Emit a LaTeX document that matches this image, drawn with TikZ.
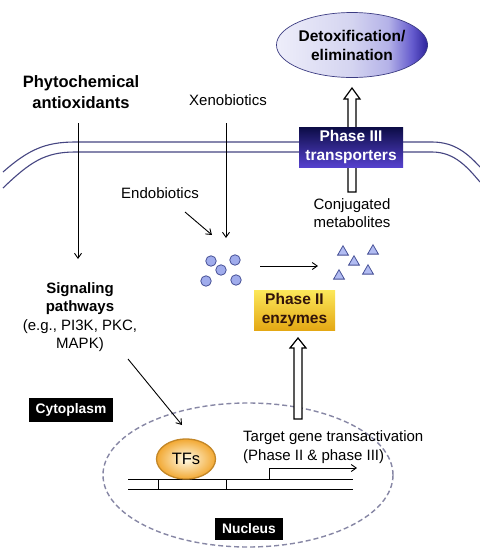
\documentclass[tikz,border=0pt]{standalone}
\usepackage{fontspec}
\setmainfont{Liberation Sans}
\usetikzlibrary{shapes.geometric,arrows.meta}
\definecolor{memb}{RGB}{70,70,130}
\definecolor{dA}{RGB}{238,238,250}
\definecolor{dB}{RGB}{212,212,240}
\definecolor{dC}{RGB}{180,178,232}
\definecolor{dD}{RGB}{100,90,205}
\definecolor{dE}{RGB}{45,35,155}
\definecolor{circfill}{RGB}{160,172,236}
\definecolor{circdraw}{RGB}{70,80,150}
\definecolor{trifill}{RGB}{178,188,242}
\definecolor{nucdash}{RGB}{135,135,165}
\definecolor{goldtop}{RGB}{252,232,90}
\definecolor{goldbot}{RGB}{228,168,20}
\definecolor{navytop}{RGB}{12,12,70}
\definecolor{navybot}{RGB}{85,65,205}
\definecolor{tfline}{RGB}{195,135,40}
\definecolor{tfin}{RGB}{255,252,232}
\definecolor{tfout}{RGB}{242,168,50}
\pgfdeclarehorizontalshading{detox}{100bp}{color(0bp)=(dA); color(25bp)=(dA); color(50bp)=(dB); color(62bp)=(dC); color(70bp)=(dD); color(75bp)=(dE); color(100bp)=(dE)}
\begin{document}
\begin{tikzpicture}[x=1pt,y=-1pt,
  txt/.style={inner sep=0pt, align=center, font=\fontsize{15}{18.5}\selectfont},
  btxt/.style={txt, font=\fontsize{15.5}{19}\selectfont\bfseries},
  arr/.style={draw=black, line width=0.9pt, -{Straight Barb[length=5pt,width=7pt]}},
  hollow/.style={draw=black, fill=white, line width=1.2pt, line join=miter},
  blackbox/.style={fill=black, text=white, inner sep=0pt, font=\fontsize{13.8}{16}\selectfont\bfseries},
  membline/.style={draw=memb, line width=1.1pt},
  mol/.style={circle, fill=circfill, draw=circdraw, line width=0.8pt, minimum size=10.5pt, inner sep=0pt},
  tri/.style={regular polygon, regular polygon sides=3, fill=trifill, draw=circdraw, line width=0.8pt, minimum size=12.5pt, inner sep=0pt}
]
\useasboundingbox (0,0) rectangle (480,550);
\fill[white] (0,0) rectangle (480,550);

% membrane
\draw[membline] (3,172) .. controls (28,150) and (45,142) .. (75,142) -- (432,142) .. controls (455,142) and (468,154) .. (480,167);
\draw[membline] (3,188) .. controls (30,162) and (45,152) .. (75,152) -- (432,152) .. controls (455,152) and (468,168) .. (480,182);

% nucleus
\node[ellipse, draw=nucdash, dashed, dash pattern=on 5pt off 3pt, line width=1.4pt, minimum width=290pt, minimum height=144pt, inner sep=0pt] (nuc) at (248,475) {};

% top ellipse
\node[ellipse, shading=detox, draw={rgb,255:red,60;green,60;blue,130}, line width=0.7pt, minimum width=143pt, minimum height=65pt, inner sep=0pt, align=center, font=\fontsize{15.5}{19}\selectfont\bfseries] (detox) at (352,45) {Detoxification/\\elimination};

% Phase III hollow arrow
\coordinate (p3tip) at (352,88);
\draw[hollow] (348,192) -- (348,99) -- (344,99) -- (p3tip) -- (360,99) -- (356,99) -- (356,192) -- cycle;
\node[top color=navytop, bottom color=navybot, minimum width=104pt, minimum height=40pt, inner sep=0pt, text=white, align=center, font=\fontsize{15.5}{18.5}\selectfont\bfseries] (p3) at (351,147) {Phase III\\transporters};

% texts
\node[btxt, font=\fontsize{16.5}{21}\selectfont\bfseries] (phyto) at (81,92.5) {Phytochemical\\antioxidants};
\node[txt] (xeno) at (228,100) {Xenobiotics};
\node[txt] (endo) at (160,193) {Endobiotics};
\node[txt] (conj) at (352,213) {Conjugated\\metabolites};
\node[txt] (sig) at (80,317) {\textbf{Signaling}\\\textbf{pathways}\\(e.g., PI3K, PKC,\\MAPK)};
\node[txt, anchor=west, align=left] (target) at (243,447) {Target gene transactivation\\(Phase II \& phase III)};

% arrows
\coordinate (a1s) at (78,123); \coordinate (a1e) at (78,259);
\draw[arr] (a1s) -- (a1e);
\coordinate (a2s) at (226,123); \coordinate (a2e) at (226,238);
\draw[arr] (a2s) -- (a2e);
\coordinate (a3s) at (185,212); \coordinate (a3e) at (212,235);
\draw[arr] (a3s) -- (a3e);
\coordinate (a4s) at (260,266); \coordinate (a4e) at (318,266);
\draw[arr] (a4s) -- (a4e);
\coordinate (a5s) at (128,359); \coordinate (a5e) at (182,425);
\draw[arr] (a5s) -- (a5e);

% molecules
\node[mol] (m1) at (211,261) {};
\node[mol] (m2) at (235,260) {};
\node[mol] (m3) at (221,270) {};
\node[mol] (m4) at (206,281) {};
\node[mol] (m5) at (236,280) {};
\node[tri] (t1) at (343,252) {};
\node[tri] (t2) at (373,251) {};
\node[tri] (t3) at (354,262) {};
\node[tri] (t4) at (339,276) {};
\node[tri] (t5) at (368,271) {};

% Phase II box
\node[top color=goldtop, bottom color=goldbot, minimum width=81pt, minimum height=40pt, inner sep=0pt, text={rgb,255:red,50;green,20;blue,10}, align=center, font=\fontsize{15.5}{18.5}\selectfont\bfseries] (p2) at (294.5,310) {Phase II\\enzymes};

% Phase II hollow arrow
\coordinate (p2tip) at (298,338);
\draw[hollow] (294,419) -- (294,348) -- (290,348) -- (p2tip) -- (306,348) -- (302,348) -- (302,419) -- cycle;

% labels
\node[blackbox, minimum width=84pt, minimum height=24pt] (cyto) at (71,410) {Cytoplasm};
\node[blackbox, minimum width=68pt, minimum height=22pt] (nucl) at (249,529) {Nucleus};

% DNA
\coordinate (d1) at (128,479); \coordinate (d2) at (353,479);
\coordinate (d3) at (128,489); \coordinate (d4) at (353,489);
\draw[line width=0.9pt] (d1) -- (d2);
\draw[line width=0.9pt] (d3) -- (d4);
\draw[line width=0.9pt] (158,479) -- (158,489);
\draw[line width=0.9pt] (226,479) -- (226,489);
\coordinate (ps) at (269,479); \coordinate (pe) at (357,468);
\draw[line width=0.9pt, -{Straight Barb[length=5pt,width=7pt]}] (ps) |- (pe);

% TFs
\node[ellipse, inner color=tfin, outer color=tfout, draw=tfline, line width=1.3pt, minimum width=59pt, minimum height=40pt, inner sep=0pt, font=\fontsize{16.5}{19}\selectfont] (tfs) at (186,459) {TFs};
\end{tikzpicture}
\end{document}
